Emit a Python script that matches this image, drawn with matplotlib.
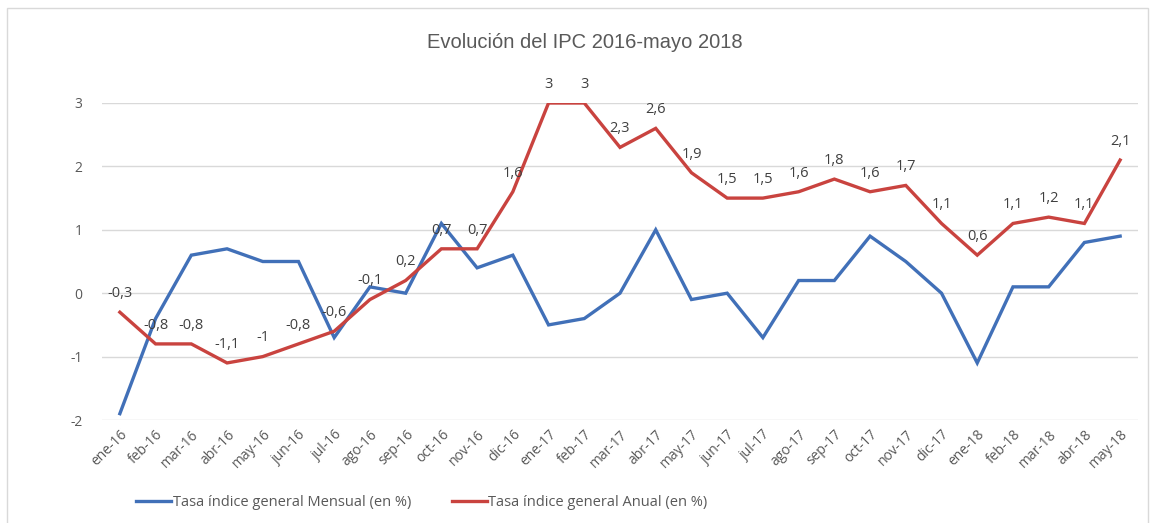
import matplotlib
matplotlib.use("Agg")
import matplotlib.pyplot as plt
from matplotlib.patches import Rectangle

plt.rcParams['font.family'] = ['Open Sans', 'DejaVu Sans']

months = ["ene-16", "feb-16", "mar-16", "abr-16", "may-16", "jun-16", "jul-16", "ago-16",
          "sep-16", "oct-16", "nov-16", "dic-16", "ene-17", "feb-17", "mar-17", "abr-17",
          "may-17", "jun-17", "jul-17", "ago-17", "sep-17", "oct-17", "nov-17", "dic-17",
          "ene-18", "feb-18", "mar-18", "abr-18", "may-18"]
mensual = [-1.9, -0.4, 0.6, 0.7, 0.5, 0.5, -0.7, 0.1, 0.0, 1.1, 0.4, 0.6, -0.5, -0.4, 0.0, 1.0,
           -0.1, 0.0, -0.7, 0.2, 0.2, 0.9, 0.5, 0.0, -1.1, 0.1, 0.1, 0.8, 0.9]
anual = [-0.3, -0.8, -0.8, -1.1, -1.0, -0.8, -0.6, -0.1, 0.2, 0.7, 0.7, 1.6, 3.0, 3.0, 2.3, 2.6,
         1.9, 1.5, 1.5, 1.6, 1.8, 1.6, 1.7, 1.1, 0.6, 1.1, 1.2, 1.1, 2.1]
yticks = [-2, -1, 0, 1, 2, 3]
title = "Evolución del IPC 2016-mayo 2018"
label_m = "Tasa índice general Mensual (en %)"
label_a = "Tasa índice general Anual (en %)"

W, H = 1155, 523
fig = plt.figure(figsize=(W / 100, H / 100), dpi=100)
fig.patches.append(Rectangle((7 / W, -0.01), (1148 - 7) / W, 1 - 8 / H + 0.01,
                             transform=fig.transFigure, fill=False,
                             edgecolor='#D9D9D9', linewidth=1))

ax = fig.add_axes([102 / W, 1 - 420 / H, (1138 - 102) / W, (420 - 103) / H])
x = list(range(len(months)))
blue = '#4170B8'
red = '#C9433F'
lm, = ax.plot(x, mensual, color=blue, linewidth=2.4, solid_joinstyle='miter', label=label_m, zorder=3)
la, = ax.plot(x, anual, color=red, linewidth=2.4, solid_joinstyle='miter', label=label_a, zorder=4)

def fmt(v):
    s = ('%.1f' % v).rstrip('0').rstrip('.')
    if s == '-0':
        s = '0'
    return s.replace('.', ',')

for xi, v in zip(x, anual):
    ax.annotate(fmt(v), (xi, v), xytext=(0, 8), textcoords='offset points',
                ha='center', va='bottom', fontsize=10.5, color='#404040',
                annotation_clip=False, zorder=5)

ax.set_xlim(-0.5, len(months) - 0.5)
ax.set_ylim(-2, 3)
ax.set_yticks(yticks)
ax.set_yticklabels([str(t) for t in yticks])
ax.set_xticks(x)
ax.set_xticklabels(months, rotation=45, ha='right', rotation_mode='anchor')
ax.tick_params(axis='both', length=0, labelsize=10, labelcolor='#595959')
ax.tick_params(axis='y', pad=14)
ax.tick_params(axis='x', pad=5)
for s in ax.spines.values():
    s.set_visible(False)
ax.grid(axis='y', color='#D9D9D9', linewidth=1)
ax.set_axisbelow(True)

fig.text(585 / W, 1 - 42 / H, title, ha='center', va='center', fontsize=14.5,
         color='#595959', family=['Liberation Sans', 'DejaVu Sans'])

fig.legend(handles=[lm, la], loc='center', bbox_to_anchor=(422 / W, 1 - 503 / H), ncol=2,
           frameon=False, fontsize=10.5, labelcolor='#595959', handlelength=2.4,
           handletextpad=0.1, columnspacing=2.8)

fig.savefig('out.png', dpi=100)
